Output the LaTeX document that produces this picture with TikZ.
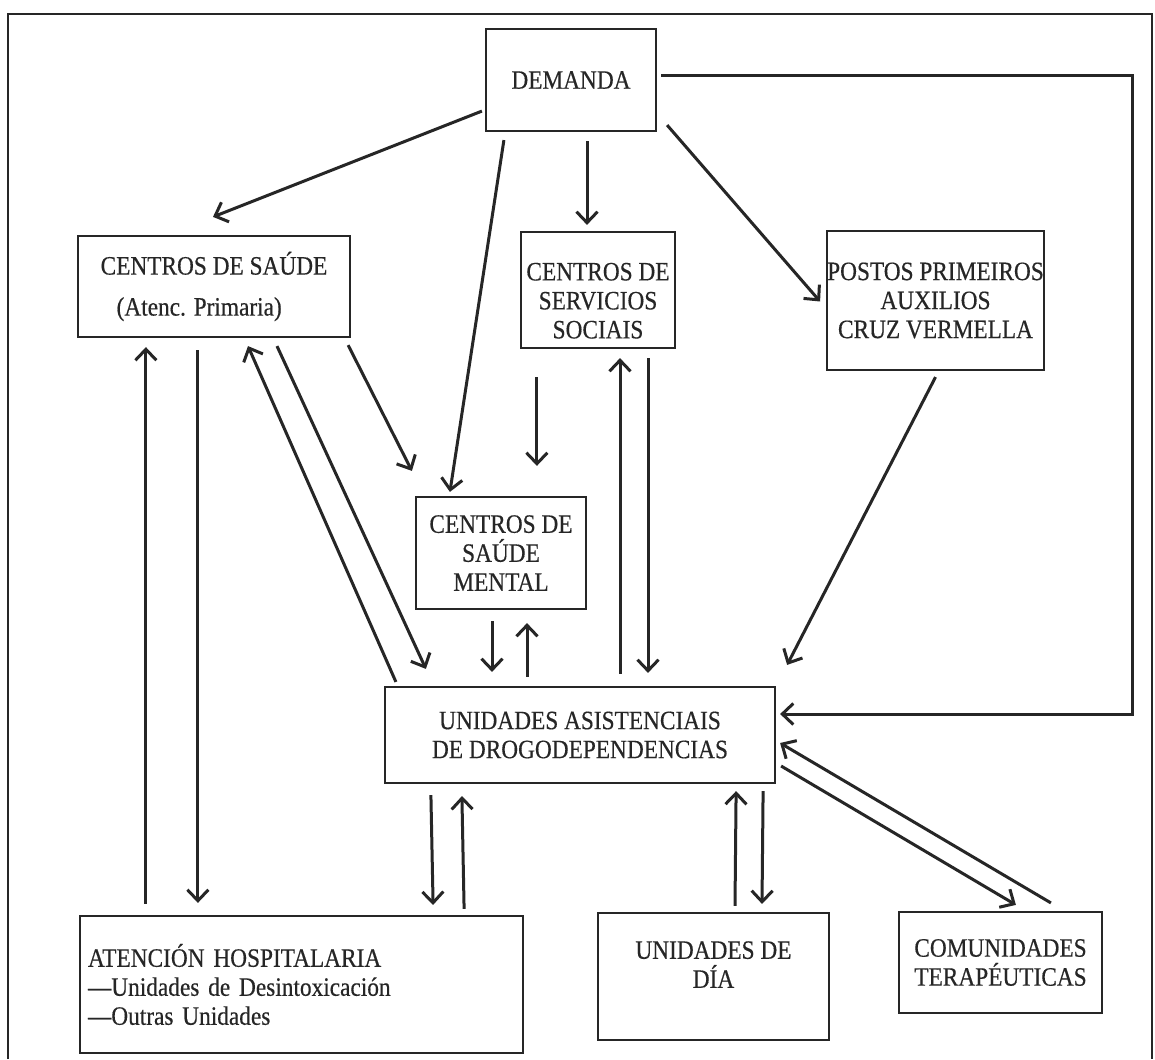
\documentclass[tikz,border=0pt]{standalone}
\usepackage{fontspec}
\setmainfont[FakeStretch=0.88, FakeBold=0.4]{Liberation Serif}
\usetikzlibrary{arrows.meta}

\tikzset{
  box/.style={draw=black!85, line width=2.2pt, rectangle, inner sep=0pt,
    align=center, font=\fontsize{26.5}{29}\selectfont, text=black!85},
  link/.style={draw=black!85, line width=3pt,
    -{Straight Barb[length=11pt,width=21pt]}},
}

\begin{document}
\begin{tikzpicture}[x=1pt, y=-1pt]

\useasboundingbox (0,0) rectangle (1155,1059);
\fill[white] (0,0) rectangle (1155,1059);

% frame
\draw[line width=2.6pt, black!85] (8,1059) -- (8,14) -- (1152,14) -- (1152,1059);

% boxes
\node [box, minimum width=170pt, minimum height=102pt] (demanda) at (571,80) {DEMANDA};
\node [box, minimum width=272pt, minimum height=101pt, align=left] (saude) at (214,286.5)
  {CENTROS DE SAÚDE\\[12pt]\hspace*{16pt}(Atenc. Primaria)};
\node [box, minimum width=154pt, minimum height=116pt] (sociais) at (598,290)
  {\rule{0pt}{39pt}CENTROS DE\\SERVICIOS\\SOCIAIS};
\node [box, minimum width=205pt, minimum height=139pt] (postos) at (935.5,300.5)
  {POSTOS PRIMEIROS\\AUXILIOS\\CRUZ VERMELLA};
\node [box, minimum width=170pt, minimum height=112pt] (mental) at (501,553)
  {CENTROS DE\\SAÚDE\\MENTAL};
\node [box, minimum width=390pt, minimum height=96pt] (unidades) at (580,735)
  {UNIDADES ASISTENCIAIS\\DE DROGODEPENDENCIAS};
\node [box, minimum width=443pt, minimum height=137pt, text width=427pt, align=left] (atencion) at (301.5,984.5)
  {ATENCIÓN HOSPITALARIA\\---Unidades de Desintoxicación\\---Outras Unidades};
\node [box, minimum width=231pt, minimum height=127pt] (dia) at (713.5,976.5)
  {UNIDADES DE\\DÍA\rule[-24pt]{0pt}{24pt}};
\node [box, minimum width=203pt, minimum height=101pt] (comunidades) at (1000.5,962.5)
  {COMUNIDADES\\TERAPÉUTICAS};

\coordinate (retorno) at (1128,0);

% arrows from demanda
\draw [link] ([shift={(-3,-21)}]demanda.south west) -- ([shift={(-1,-18)}]saude.north);
\draw [link] ([shift={(19,8)}]demanda.south west) -- ([shift={(35,-4)}]mental.north west);
\draw [link] ([shift={(16,9)}]demanda.south) -- ([shift={(-11,-6)}]sociais.north);
\draw [link] ([shift={(10,-7)}]demanda.south east) -- ([shift={(-6,1)}]postos.west);
\draw [link] ([shift={(4,-4)}]demanda.east) -- ([shift={(4,-4)}]demanda.east -| retorno)
  -- ([shift={(4,-21)}]unidades.east -| retorno) -- ([shift={(4,-21)}]unidades.east);

% into centros de saude mental
\draw [link] ([shift={(-3,7)}]saude.south east) -- ([shift={(-3,-25)}]mental.north west);
\draw [link] ([shift={(17,28)}]sociais.south west) -- ([shift={(122,-30)}]mental.north west);

% centros de saude <-> atencion / unidades
\draw [link] ([shift={(67,-11)}]atencion.north west) -- ([shift={(69,9)}]saude.south west);
\draw [link] ([shift={(121,12)}]saude.south west) -- ([shift={(119,-12)}]atencion.north west);
\draw [link] ([shift={(12,-4)}]unidades.north west) -- ([shift={(34,8)}]saude.south);
\draw [link] ([shift={(63,8)}]saude.south) -- ([shift={(42,-17)}]unidades.north west);

% mental, sociais, postos <-> unidades
\draw [link] ([shift={(-9,11)}]mental.south) -- ([shift={(-88,-14)}]unidades.north);
\draw [link] ([shift={(-53,-9)}]unidades.north) -- ([shift={(26,13)}]mental.south);
\draw [link] ([shift={(40,-12)}]unidades.north) -- ([shift={(22,9)}]sociais.south);
\draw [link] ([shift={(50,9)}]sociais.south) -- ([shift={(68,-13)}]unidades.north);
\draw [link] ([shift={(0,6)}]postos.south) -- ([shift={(11,-21)}]unidades.north east);

% unidades <-> lower boxes
\draw [link] ([shift={(47,11)}]unidades.south west) -- ([shift={(-91,-10)}]atencion.north east);
\draw [link] ([shift={(-60,-6)}]atencion.north east) -- ([shift={(78,12)}]unidades.south west);
\draw [link] ([shift={(21.5,-6)}]dia.north) -- ([shift={(-40,7)}]unidades.south east);
\draw [link] ([shift={(-13,7)}]unidades.south east) -- ([shift={(48.5,-8)}]dia.north);
\draw [link] ([shift={(5,31)}]unidades.east) -- ([shift={(118,-6)}]comunidades.north west);
\draw [link] ([shift={(153,-8)}]comunidades.north west) -- ([shift={(4,8)}]unidades.east);

\end{tikzpicture}
\end{document}
